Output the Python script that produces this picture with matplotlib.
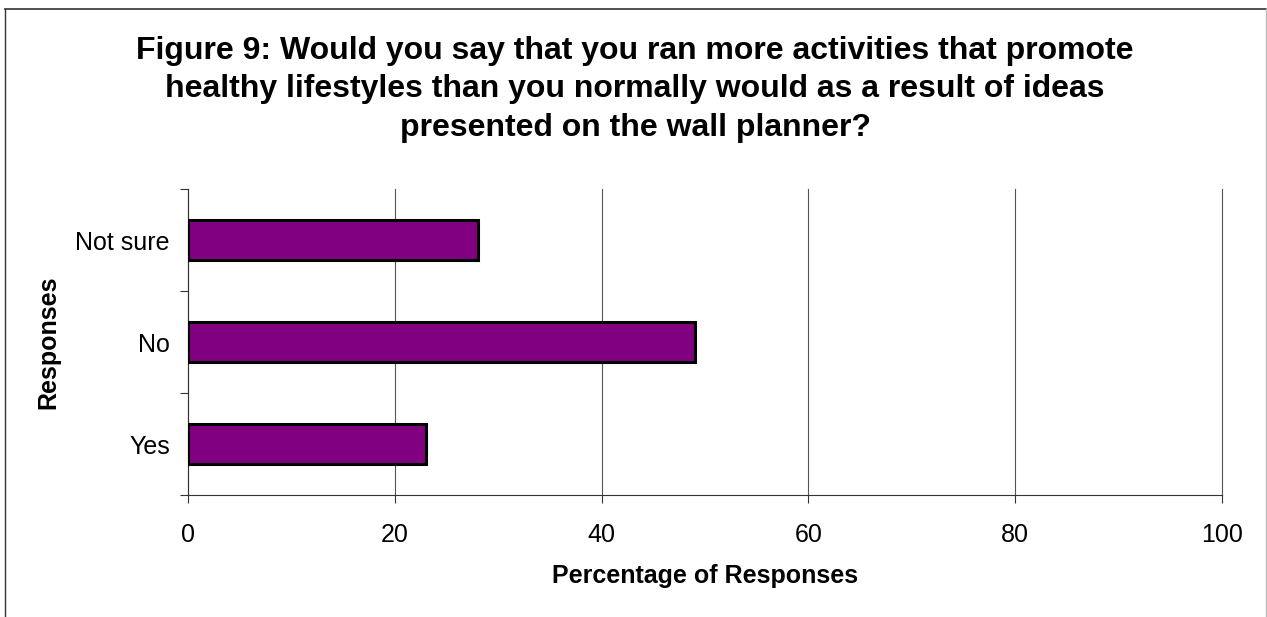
import matplotlib
matplotlib.use("Agg")
import matplotlib.pyplot as plt
from matplotlib.lines import Line2D

plt.rcParams['font.family'] = ['Liberation Sans', 'DejaVu Sans']

categories = ["Yes", "No", "Not sure"]
percentages = [23, 49, 28]
x_ticks = [0, 20, 40, 60, 80, 100]

title = ("Figure 9: Would you say that you ran more activities that promote\n"
         "healthy lifestyles than you normally would as a result of ideas\n"
         "presented on the wall planner?")

W, H = 1267, 617
fig = plt.figure(figsize=(W / 100, H / 100), dpi=100)

# axes box in pixel terms
left, right, top, bottom = 188, 1222, 189, 495
ax = fig.add_axes([left / W, (H - bottom) / H, (right - left) / W, (bottom - top) / H])

ypos = list(range(len(categories)))
ax.barh(ypos, percentages, height=0.4, color="#800080", edgecolor="black",
        linewidth=2.2, zorder=3)

ax.set_xlim(0, 100)
ax.set_ylim(-0.5, len(categories) - 0.5)

ax.set_xticks(x_ticks)
ax.set_xticklabels([str(v) for v in x_ticks])
ax.grid(axis="x", color="#555555", linewidth=0.8, zorder=0)
for gl in ax.get_xgridlines():
    gl.set_clip_on(False)

# category separators as major ticks, labels on minor ticks
ax.set_yticks([i - 0.5 for i in range(len(categories) + 1)])
ax.set_yticklabels([])
ax.set_yticks(ypos, minor=True)
ax.set_yticklabels(categories, minor=True)
ax.tick_params(axis="y", which="major", direction="out", length=6, width=0.8, color="#333333")
ax.tick_params(axis="y", which="minor", length=0, pad=13, labelsize=18)
ax.tick_params(axis="x", which="major", direction="out", length=6, width=0.8,
               color="#333333", pad=14, labelsize=18)

for side in ("top", "right"):
    ax.spines[side].set_visible(False)
for side in ("left", "bottom"):
    ax.spines[side].set_color("#333333")
    ax.spines[side].set_linewidth(0.8)

ax.set_xlabel("Percentage of Responses", fontsize=18, fontweight="bold", va="center")
ax.xaxis.set_label_coords(0.5, (bottom - 576) / (bottom - top))
ax.set_ylabel("Responses", fontsize=18, fontweight="bold", va="center")
ax.yaxis.set_label_coords((48 - left) / (right - left), 0.5)

fig.text(635 / W, 1 - 36 / H, title, ha="center", va="top", fontsize=23,
         fontweight="bold", linespacing=1.36)

# outer frame of the chart area
fig.add_artist(Line2D([4.5 / W, 4.5 / W], [0, 1 - 8.5 / H], transform=fig.transFigure,
                      color="#333333", linewidth=1.0))
fig.add_artist(Line2D([4.5 / W, 1265.5 / W], [1 - 8.5 / H, 1 - 8.5 / H],
                      transform=fig.transFigure, color="#333333", linewidth=1.2))
fig.add_artist(Line2D([1265.5 / W, 1265.5 / W], [0, 1 - 8.5 / H], transform=fig.transFigure,
                      color="#bbbbbb", linewidth=1.0))

fig.savefig("out.png", dpi=100)
